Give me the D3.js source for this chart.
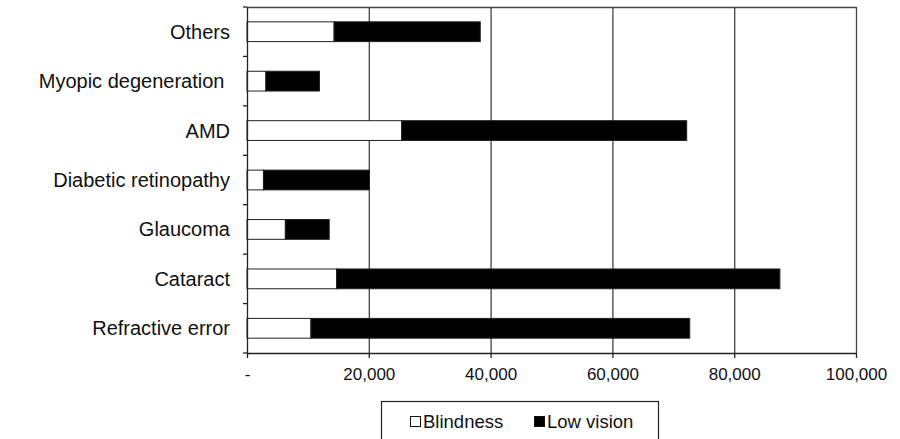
<!DOCTYPE html>
<html>
<head>
<meta charset="utf-8">
<script src="https://cdn.jsdelivr.net/npm/d3@7"></script>
<style>
  html, body { margin: 0; padding: 0; background: #fff; }
  svg { display: block; font-family: Arial, "Liberation Sans", sans-serif; }
</style>
</head>
<body>
<svg id="chart" width="900" height="439"></svg>
<script>
// Causes of visual impairment, top to bottom as listed on the axis
const categories = ["Others", "Myopic degeneration ", "AMD", "Diabetic retinopathy", "Glaucoma", "Cataract", "Refractive error"];
const blindness = [14300, 3100, 25400, 2700, 6300, 14700, 10500];
const lowVision = [24000, 8800, 46800, 17400, 7200, 72800, 62200];
const xTicks = [0, 20000, 40000, 60000, 80000, 100000];
const seriesNames = ["Blindness", "Low vision"];

const svg = d3.select("#chart");
const plot = { left: 247, right: 856, top: 7, bottom: 353 };

const x = d3.scaleLinear().domain([0, 100000]).range([plot.left, plot.right]);
const y = d3.scaleBand().domain(categories).range([plot.top, plot.bottom])
  .paddingInner(0.6).paddingOuter(0.3);

const rows = categories.map((c, i) => ({ cat: c, b: blindness[i], lv: lowVision[i] }));

// vertical gridlines
svg.append("g").selectAll("line")
  .data(xTicks.filter(t => t > 0))
  .join("line")
  .attr("x1", d => x(d) + 0.5).attr("x2", d => x(d) + 0.5)
  .attr("y1", plot.top).attr("y2", plot.bottom)
  .attr("stroke", "#444").attr("stroke-width", 1.3);

// top border of plot area
svg.append("line")
  .attr("x1", plot.left).attr("x2", plot.right + 0.5)
  .attr("y1", plot.top + 0.5).attr("y2", plot.top + 0.5)
  .attr("stroke", "#444").attr("stroke-width", 1.3);

// stacked bars
const bars = svg.append("g");
bars.selectAll("rect.b")
  .data(rows).join("rect").attr("class", "b")
  .attr("x", x(0)).attr("y", d => y(d.cat))
  .attr("width", d => x(d.b) - x(0)).attr("height", y.bandwidth())
  .attr("fill", "#fff").attr("stroke", "#222").attr("stroke-width", 1);
bars.selectAll("rect.lv")
  .data(rows).join("rect").attr("class", "lv")
  .attr("x", d => x(d.b)).attr("y", d => y(d.cat))
  .attr("width", d => x(d.b + d.lv) - x(d.b)).attr("height", y.bandwidth())
  .attr("fill", "#000").attr("stroke", "#222").attr("stroke-width", 1);

// x axis
const xAxis = d3.axisBottom(x).tickValues(xTicks)
  .tickFormat(d => d === 0 ? "-" : d3.format(",")(d))
  .tickSize(5).tickSizeOuter(0).tickPadding(10);
const gx = svg.append("g").attr("transform", `translate(0,${plot.bottom})`).call(xAxis);
gx.select(".domain").attr("stroke", "#222").attr("stroke-width", 1.3);
gx.selectAll(".tick line").attr("stroke", "#222").attr("stroke-width", 1.3);
gx.selectAll(".tick text").attr("fill", "#111").style("font-size", "17px")
  .style("font-family", "Arial, 'Liberation Sans', sans-serif");

// y axis with ticks at category boundaries
const boundaries = d3.range(categories.length + 1).map(i => plot.top + i * y.step());
svg.append("line")
  .attr("x1", plot.left + 0.5).attr("x2", plot.left + 0.5)
  .attr("y1", plot.top).attr("y2", plot.bottom)
  .attr("stroke", "#222").attr("stroke-width", 1.3);
svg.append("g").selectAll("line")
  .data(boundaries).join("line")
  .attr("x1", plot.left - 4).attr("x2", plot.left)
  .attr("y1", d => d).attr("y2", d => d)
  .attr("stroke", "#222").attr("stroke-width", 1.3);
svg.append("g").selectAll("text")
  .data(categories).join("text")
  .attr("x", plot.left - 17)
  .attr("y", d => y(d) + y.bandwidth() / 2)
  .attr("dy", "0.35em")
  .attr("text-anchor", "end")
  .style("white-space", "pre")
  .style("font-size", "20px")
  .attr("fill", "#111")
  .text(d => d);

// legend
const legend = svg.append("g");
legend.append("rect")
  .attr("x", 381.5).attr("y", 401.5).attr("width", 277).attr("height", 60)
  .attr("fill", "#fff").attr("stroke", "#222").attr("stroke-width", 1.2);
const legendItems = [
  { name: seriesNames[0], fill: "#fff", x: 410 },
  { name: seriesNames[1], fill: "#000", x: 534 }
];
legend.selectAll("rect.key").data(legendItems).join("rect").attr("class", "key")
  .attr("x", d => d.x + 0.5).attr("y", 416.5).attr("width", 10).attr("height", 10)
  .attr("fill", d => d.fill).attr("stroke", "#111").attr("stroke-width", 1);
legend.selectAll("text").data(legendItems).join("text")
  .attr("x", d => d.x + 13).attr("y", 427.5)
  .style("font-size", "18.5px").attr("fill", "#111")
  .text(d => d.name);
</script>
</body>
</html>
